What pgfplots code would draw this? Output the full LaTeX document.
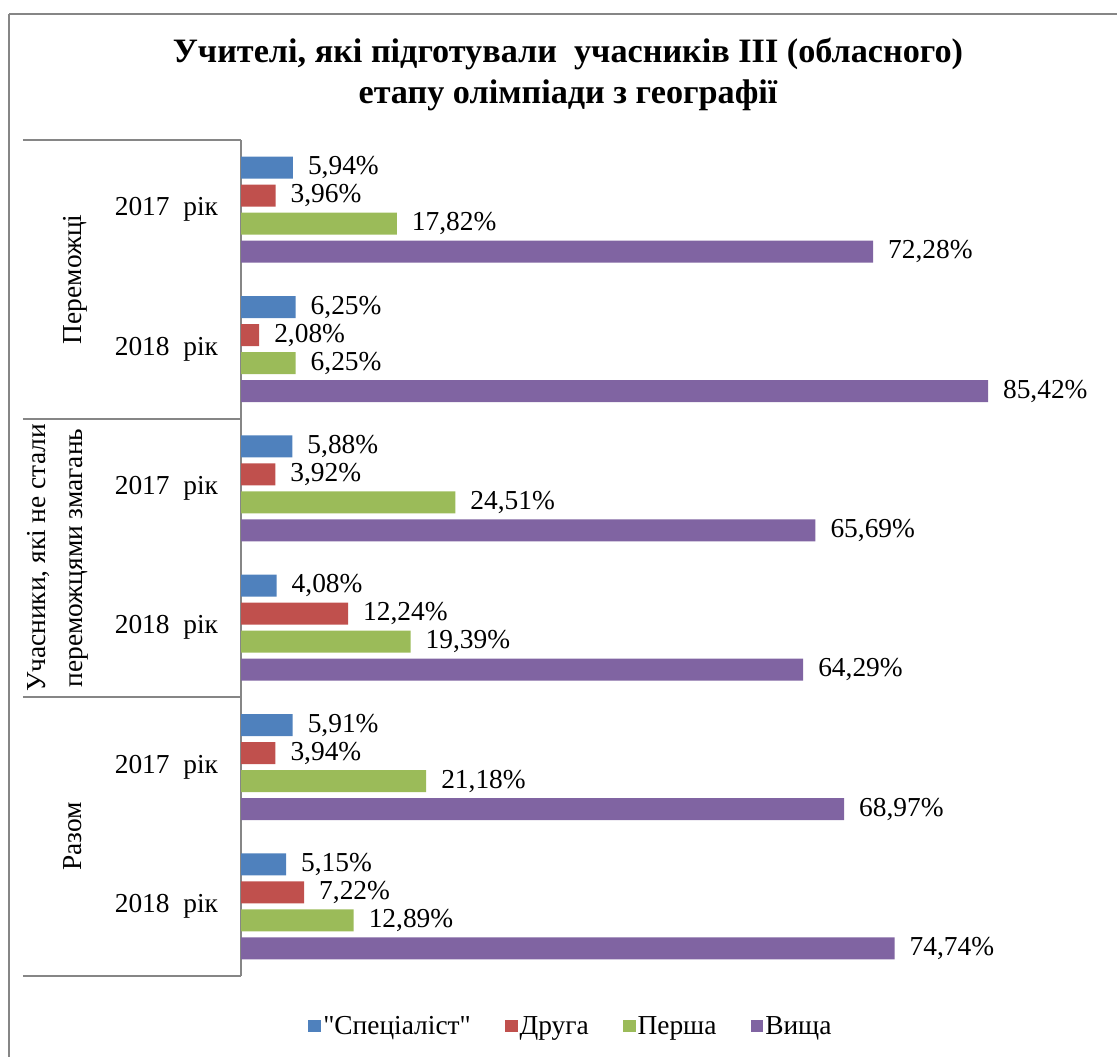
\documentclass[border=0pt]{standalone}
\usepackage{pgfplots}
\pgfplotsset{compat=1.18}
\usepackage{fontspec}
\setmainfont{Liberation Serif}
\newfontfamily\nolig{Liberation Serif}[Ligatures=TeXOff]
\definecolor{cBlue}{RGB}{79,129,189}
\definecolor{cRed}{RGB}{192,80,77}
\definecolor{cGreen}{RGB}{155,187,89}
\definecolor{cPurple}{RGB}{128,100,162}
\definecolor{lineg}{RGB}{134,134,134}
\newcommand{\lbl}{\fontsize{13.7}{18.5}\selectfont}
\begin{document}
\begin{tikzpicture}
\useasboundingbox (0,0) rectangle (558.5pt,-528pt);
\draw[lineg, line width=1pt] (4.5pt,-7pt) -- (562pt,-7pt);
\draw[lineg, line width=1pt] (4.5pt,-7pt) -- (4.5pt,-532pt);
\node[align=center, font=\bfseries\fontsize{17.1}{20.5}\selectfont] at (284pt,-37pt)
  {Учителі, які підготували\ \ учасників ІІІ (обласного)\\етапу олімпіади з географії};
\begin{axis}[
  at={(120.5pt,-70pt)}, anchor=north west,
  width=437.25pt, height=418pt, scale only axis,
  xbar, xmin=0, xmax=100, ymin=-0.5, ymax=5.5, y dir=reverse,
  axis x line=none, axis y line=left,
  y axis line style={-, draw=lineg, line width=1pt},
  ytick={0,1,2,3,4,5},
  yticklabels={2017\enspace рік,2018\enspace рік,2017\enspace рік,2018\enspace рік,2017\enspace рік,2018\enspace рік},
  yticklabel style={font=\lbl, anchor=east, xshift=-8pt},
  major tick length=0,
  bar width=0.158,
  point meta=x,
  nodes near coords={\pgfmathprintnumber[fixed,fixed zerofill,precision=2,use comma,assume math mode=true]{\pgfplotspointmeta}\%},
  every node near coord/.append style={font=\lbl, anchor=west, xshift=4pt, text=black},
  clip=false,
  legend style={at={(0.3785,-0.061)}, anchor=center, legend columns=4, draw=none, font=\lbl,
    /tikz/every even column/.append style={column sep=15pt},
    /tikz/every odd column/.append style={column sep=-1pt}},
  legend image code/.code={\fill[#1] (0pt,-2.7pt) rectangle (6.4pt,3.7pt);},
]
\addplot[fill=cBlue, draw=none, bar shift=-0.3015] coordinates {(5.94,0) (6.25,1) (5.88,2) (4.08,3) (5.91,4) (5.15,5)};
\addplot[fill=cRed, draw=none, bar shift=-0.1005] coordinates {(3.96,0) (2.08,1) (3.92,2) (12.24,3) (3.94,4) (7.22,5)};
\addplot[fill=cGreen, draw=none, bar shift=0.1005] coordinates {(17.82,0) (6.25,1) (24.51,2) (19.39,3) (21.18,4) (12.89,5)};
\addplot[fill=cPurple, draw=none, bar shift=0.3015] coordinates {(72.28,0) (85.42,1) (65.69,2) (64.29,3) (68.97,4) (74.74,5)};
\legend{{\nolig"Спеціаліст"},Друга,Перша,Вища}
\draw[lineg, line width=1pt] (axis cs:-24.93,-0.5) -- (axis cs:0,-0.5);
\draw[lineg, line width=1pt] (axis cs:-24.93,1.5) -- (axis cs:0,1.5);
\draw[lineg, line width=1pt] (axis cs:-24.93,3.5) -- (axis cs:0,3.5);
\draw[lineg, line width=1pt] (axis cs:-24.93,5.5) -- (axis cs:0,5.5);
\node[rotate=90, font=\lbl] at (axis cs:-18.98,0.5) {Переможці};
\node[rotate=90, font=\lbl, align=center] at (axis cs:-20.9,2.5) {Учасники, які не стали\\переможцями змагань};
\node[rotate=90, font=\lbl] at (axis cs:-19.2,4.5) {Разом};
\end{axis}
\end{tikzpicture}
\end{document}
